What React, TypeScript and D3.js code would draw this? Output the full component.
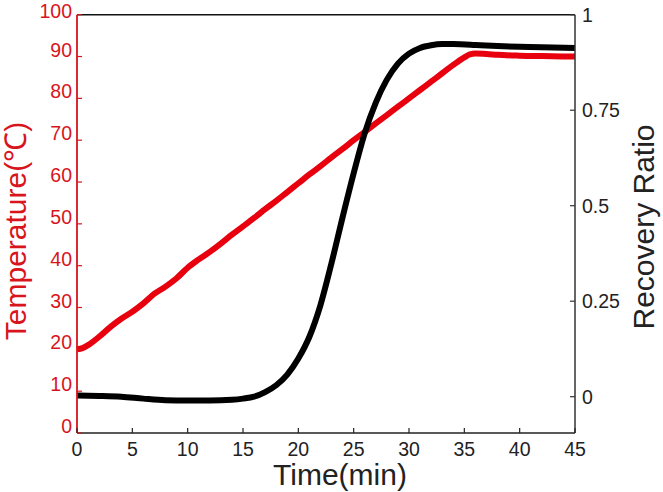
import React from "react";
import * as d3 from "d3";

const tempTimes = [0, 0.5, 1, 2, 3, 4, 5, 6, 7, 8, 9, 10, 11, 12, 13, 14, 15, 16, 17, 18, 19, 20, 21, 22, 23, 24, 25, 26, 27, 28, 29, 30, 31, 32, 33, 34, 35, 35.5, 36, 37, 38, 40, 42, 45];
const tempValues = [20, 20.3, 21, 23, 25.3, 27.3, 29, 31, 33.3, 35, 37, 39.5, 41.5, 43.3, 45.3, 47.4, 49.4, 51.4, 53.5, 55.5, 57.6, 59.7, 61.8, 63.8, 65.9, 67.9, 70, 72, 74, 76, 78, 80, 82, 84, 86, 88, 89.8, 90.5, 90.7, 90.6, 90.4, 90.2, 90.1, 90];

const ratioTimes = [0, 2, 4, 6, 8, 10, 12, 14, 15, 16, 17, 18, 19, 20, 21, 22, 23, 24, 25, 26, 27, 28, 29, 30, 31, 32, 33, 34, 36, 38, 40, 42, 45];
const ratioValues = [0.003, 0.002, 0, -0.005, -0.009, -0.01, -0.01, -0.008, -0.005, 0, 0.012, 0.03, 0.058, 0.1, 0.157, 0.24, 0.35, 0.47, 0.585, 0.69, 0.77, 0.83, 0.872, 0.898, 0.913, 0.92, 0.923, 0.923, 0.921, 0.918, 0.916, 0.915, 0.913];

const xTicks = [0, 5, 10, 15, 20, 25, 30, 35, 40, 45];
const tempTicks = [0, 10, 20, 30, 40, 50, 60, 70, 80, 90, 100];
const ratioTicks = [0, 0.25, 0.5, 0.75, 1];
const ratioTickLabels = ["0", "0.25", "0.5", "0.75", "1"];

const RED_AXIS = "#d8141c";
const RED_LINE = "#e8000e";
const FONT = "'Liberation Sans', Arial, Helvetica, sans-serif";

export default function App() {
  const left = 77, right = 575, top = 14.7, bottom = 433;
  const x = d3.scaleLinear().domain([0, 45]).range([left, right]);
  const yT = d3.scaleLinear().domain([0, 100]).range([bottom, top]);
  const yR = d3.scaleLinear().domain([-0.095, 1]).range([bottom, top]);

  const tempLine = d3.line<number>()
    .x((_, i) => x(tempTimes[i]))
    .y((d) => yT(d))
    .curve(d3.curveMonotoneX);
  const ratioLine = d3.line<number>()
    .x((_, i) => x(ratioTimes[i]))
    .y((d) => yR(d))
    .curve(d3.curveMonotoneX);

  return (
    <svg width={663} height={492} style={{ position: "absolute", left: 0, top: 0, background: "#fff" }} fontFamily={FONT}>
      <rect x={0} y={0} width={663} height={492} fill="#fff" />
      {/* lines */}
      <path d={tempLine(tempValues) || ""} fill="none" stroke={RED_LINE} strokeWidth={6} strokeLinejoin="round" />
      <path d={ratioLine(ratioValues) || ""} fill="none" stroke="#000" strokeWidth={6} strokeLinejoin="round" />

      {/* frame */}
      <line x1={left} x2={right} y1={top} y2={top} stroke="#111" strokeWidth={1.5} />
      <line x1={left} x2={right} y1={bottom} y2={bottom} stroke="#222" strokeWidth={1.5} />
      <line x1={right} x2={right} y1={top} y2={bottom} stroke="#333" strokeWidth={1.5} />
      <line x1={left} x2={left} y1={top} y2={bottom} stroke={RED_AXIS} strokeWidth={1.8} />

      {/* x ticks */}
      {xTicks.map((t) => (
        <g key={"x" + t}>
          <line x1={x(t)} x2={x(t)} y1={bottom} y2={bottom - 5} stroke="#222" strokeWidth={1.2} />
          <text x={x(t)} y={456} textAnchor="middle" fontSize={19.5} fill="#222">{t}</text>
        </g>
      ))}

      {/* left ticks */}
      {tempTicks.map((t) => (
        <g key={"t" + t}>
          <line x1={left} x2={left + 5} y1={yT(t)} y2={yT(t)} stroke={RED_AXIS} strokeWidth={1.2} />
          <text x={72} y={Math.max(yT(t), 18)} textAnchor="end" fontSize={19.5} fill={RED_AXIS}>{t}</text>
        </g>
      ))}

      {/* right ticks */}
      {ratioTicks.map((t, i) => (
        <g key={"r" + t}>
          <line x1={right} x2={right - 5} y1={yR(t)} y2={yR(t)} stroke="#333" strokeWidth={1.2} />
          <text x={582} y={yR(t)} dy="0.35em" textAnchor="start" fontSize={19.5} fill="#222">{ratioTickLabels[i]}</text>
        </g>
      ))}

      {/* titles */}
      <text x={340} y={485} textAnchor="middle" fontSize={30} fill="#222">Time(min)</text>
      <text transform="translate(26,231) rotate(-90)" textAnchor="middle" fontSize={30} fill={RED_AXIS}>Temperature(℃)</text>
      <text transform="translate(654,227) rotate(-90)" textAnchor="middle" fontSize={30} fill="#222">Recovery Ratio</text>
    </svg>
  );
}
